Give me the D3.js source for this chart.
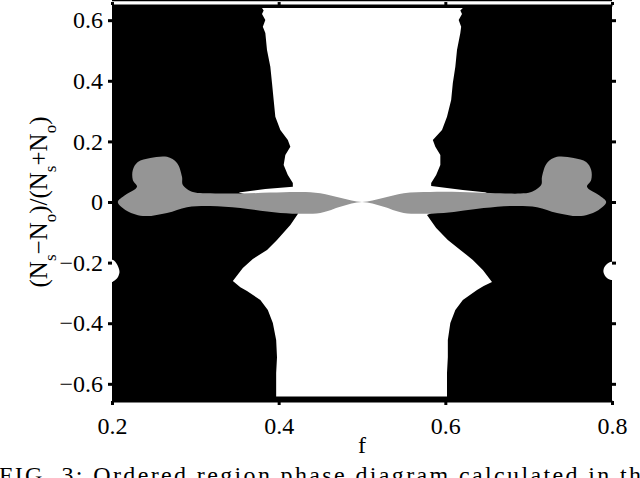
<!DOCTYPE html>
<html>
<head>
<meta charset="utf-8">
<script src="https://cdn.jsdelivr.net/npm/d3@7"></script>
<style>
  body { margin: 0; background: #fff; }
  svg { display: block; font-family: "Liberation Serif", "DejaVu Serif", serif; }
</style>
</head>
<body>
<div id="chart"></div>
<script>
// phase boundaries, points are [f, (Ns-No)/(Ns+No)]
var xTicks = [0.2, 0.4, 0.6, 0.8];
var yTicks = [-0.6, -0.4, -0.2, 0, 0.2, 0.4, 0.6];

// white (disordered) region, walked clockwise
var upperLeftEdge = [[0.380,0.640],[0.382,0.632],[0.380,0.620],[0.384,0.601],[0.381,0.578],[0.384,0.558],
  [0.386,0.502],[0.390,0.446],[0.392,0.393],[0.394,0.337],[0.396,0.281],[0.402,0.238],[0.411,0.205],
  [0.414,0.182],[0.408,0.155],[0.406,0.122],[0.411,0.089],[0.417,0.063],[0.417,0.050]];
var leftSliver = [[0.384,0.043],[0.352,0.031],[0.380,0.010],[0.423,-0.035]];
var lowerLeftEdge = [[0.423,-0.040],[0.414,-0.076],[0.398,-0.125],[0.386,-0.158],[0.369,-0.188],
  [0.357,-0.218],[0.345,-0.261],[0.354,-0.281],[0.362,-0.294],[0.378,-0.323],[0.387,-0.356],
  [0.393,-0.399],[0.397,-0.455],[0.398,-0.512],[0.397,-0.564],[0.397,-0.620],[0.397,-0.642]];
var lowerRightEdge = [[0.602,-0.642],[0.602,-0.620],[0.602,-0.564],[0.603,-0.512],[0.603,-0.455],
  [0.606,-0.399],[0.612,-0.356],[0.621,-0.323],[0.638,-0.290],[0.646,-0.277],[0.656,-0.264],
  [0.645,-0.224],[0.633,-0.191],[0.618,-0.158],[0.603,-0.125],[0.589,-0.086],[0.578,-0.043]];
var rightSliver = [[0.620,0.010],[0.650,0.031],[0.621,0.040],[0.583,0.053]];
var upperRightEdge = [[0.583,0.063],[0.589,0.089],[0.594,0.122],[0.594,0.155],[0.588,0.182],
  [0.585,0.205],[0.596,0.238],[0.602,0.281],[0.607,0.337],[0.609,0.393],[0.612,0.446],[0.614,0.502],
  [0.618,0.558],[0.619,0.578],[0.616,0.601],[0.620,0.620],[0.618,0.632],[0.621,0.640]];

// grey band, top edge left to right, bottom edge right to left
var grayTop = [[0.207,0],[0.216,0.023],[0.230,0.050],[0.225,0.073],[0.225,0.106],[0.231,0.132],
  [0.246,0.145],[0.266,0.149],[0.278,0.129],[0.284,0.083],[0.285,0.056],[0.297,0.033],[0.318,0.029],
  [0.354,0.028],[0.390,0.031],[0.426,0.033],[0.450,0.029],[0.475,0.013],[0.500,0],[0.525,0.013],
  [0.550,0.029],[0.582,0.033],[0.618,0.033],[0.654,0.030],[0.690,0.028],[0.703,0.033],[0.715,0.056],
  [0.716,0.083],[0.722,0.129],[0.734,0.149],[0.754,0.145],[0.769,0.132],[0.775,0.106],[0.775,0.073],
  [0.770,0.050],[0.784,0.023],[0.793,0]];
var grayBottom = [[0.784,-0.026],[0.763,-0.046],[0.734,-0.036],[0.710,-0.017],[0.682,-0.013],
  [0.646,-0.020],[0.598,-0.036],[0.550,-0.036],[0.525,-0.015],[0.500,0],[0.475,-0.015],[0.450,-0.036],
  [0.402,-0.036],[0.354,-0.020],[0.318,-0.013],[0.290,-0.017],[0.266,-0.036],[0.237,-0.046],
  [0.216,-0.026]];

// small white pockets on the plot edges
var leftPocket = [[0.200,-0.191],[0.205,-0.201],[0.208,-0.218],[0.209,-0.231],[0.207,-0.248],[0.202,-0.261],[0.200,-0.264]];
var rightPocket = [[0.800,-0.198],[0.794,-0.205],[0.790,-0.221],[0.790,-0.234],[0.794,-0.251],[0.800,-0.257]];

var fRange = [0.2, 0.8], vRange = [-0.66, 0.66], vTop = 0.65;

var width = 640, height = 478;
var svg = d3.select("#chart").append("svg")
    .attr("width", width)
    .attr("height", height);

var x = d3.scaleLinear().domain(fRange).range([112, 612]);
var y = d3.scaleLinear().domain(vRange).range([402, 2]);

var line = d3.line()
    .x(function(d) { return x(d[0]); })
    .y(function(d) { return y(d[1]); });

// ordered (black) background
svg.append("rect")
    .attr("x", x(fRange[0]))
    .attr("y", y(vTop))
    .attr("width", x(fRange[1]) - x(fRange[0]))
    .attr("height", y(vRange[0]) - y(vTop))
    .style("fill", "#000");

var whiteRegion = [].concat(upperLeftEdge, leftSliver, lowerLeftEdge, lowerRightEdge, rightSliver, upperRightEdge);
svg.append("path")
    .attr("d", line.curve(d3.curveLinearClosed)(whiteRegion))
    .style("fill", "#fff");

[leftPocket, rightPocket].forEach(function(p) {
    svg.append("path")
        .attr("d", line.curve(d3.curveCatmullRomClosed.alpha(0.5))(p))
        .style("fill", "#fff");
});

svg.append("path")
    .attr("d", line.curve(d3.curveCatmullRomClosed.alpha(0.5))(grayTop.concat(grayBottom)))
    .style("fill", "#959595");

// axes
var fmt = function(d) { return d === 0 ? "0" : d3.format(".1f")(d); };

var gLeft = svg.append("g")
    .attr("transform", "translate(" + x(fRange[0]) + ",0)")
    .call(d3.axisLeft(y).tickValues(yTicks).tickSize(4).tickSizeOuter(0).tickPadding(5).tickFormat(fmt));

var gRight = svg.append("g")
    .attr("transform", "translate(" + x(fRange[1]) + ",0)")
    .call(d3.axisRight(y).tickValues(yTicks).tickSize(4).tickSizeOuter(0).tickFormat(""));

var gBottom = svg.append("g")
    .attr("transform", "translate(0," + (y(vRange[0]) - 1) + ")")
    .call(d3.axisBottom(x).tickValues(xTicks).tickSize(4).tickSizeOuter(0).tickPadding(12).tickFormat(fmt));

var gTop = svg.append("g")
    .attr("transform", "translate(0," + y(vTop) + ")")
    .call(d3.axisTop(x).tickValues(xTicks).tickSize(3).tickSizeOuter(0).tickFormat(""));

svg.append("line")
    .attr("x1", x(fRange[0])).attr("x2", x(fRange[1]))
    .attr("y1", 0.5).attr("y2", 0.5)
    .style("stroke", "#000").style("stroke-width", 1.5);

[gLeft, gRight, gBottom, gTop].forEach(function(g) {
    g.select(".domain").style("stroke", "#000").style("stroke-width", 2);
    g.selectAll(".tick line").style("stroke", "#000").style("stroke-width", 3);
    g.selectAll(".tick text")
        .style("font-family", "'Liberation Serif', serif")
        .style("font-size", "24px")
        .style("fill", "#000");
});
gLeft.select(".domain").remove();
gRight.select(".domain").remove();

// axis titles
svg.append("text")
    .attr("x", x(0.5))
    .attr("y", 453)
    .attr("text-anchor", "middle")
    .style("font-size", "24px")
    .text("f");

var ylab = svg.append("text")
    .attr("transform", "translate(47," + y(0) + ") rotate(-90)")
    .attr("text-anchor", "middle")
    .style("font-size", "25px");
var parts = [["(N", 0], ["s", 1], ["\u2212N", 0], ["o", 1], [")/(N", 0], ["s", 1], ["+N", 0], ["o", 1], [")", 0]];
var shift = 0;
parts.forEach(function(p) {
    var dy = p[1] ? 9 - shift : -shift;
    shift = p[1] ? 9 : 0;
    ylab.append("tspan")
        .attr("dy", dy)
        .style("font-size", p[1] ? "17px" : "25px")
        .text(p[0]);
});

// caption, cut by the bottom edge as in the source
svg.append("text")
    .attr("x", -1)
    .attr("y", 483)
    .attr("textLength", 655)
    .attr("lengthAdjust", "spacing")
    .style("font-size", "24px")
    .text("FIG. 3: Ordered region phase diagram calculated in the");
</script>
</body>
</html>
